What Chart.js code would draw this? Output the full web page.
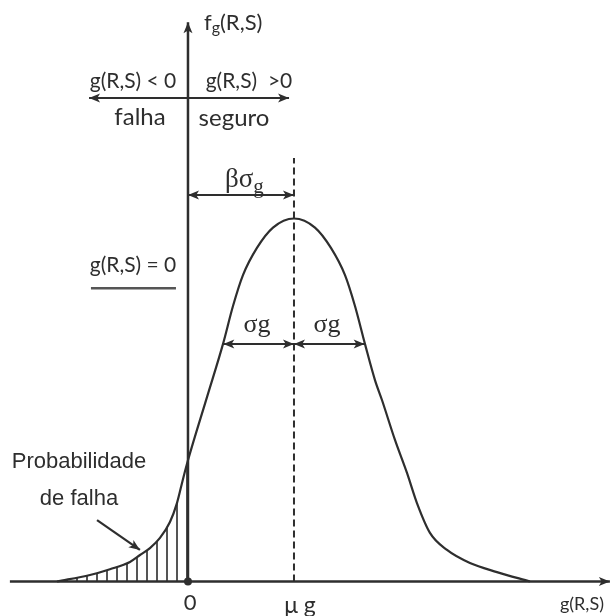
<!DOCTYPE html>
<html>
<head>
<meta charset="utf-8">
<script src="https://cdn.jsdelivr.net/npm/chart.js@4/dist/chart.umd.min.js"></script>
<style>
  html, body { margin: 0; padding: 0; background: #fff; }
  #wrap { width: 612px; height: 616px; position: relative; }
</style>
</head>
<body>
<div id="wrap"><canvas id="c" width="612" height="616"></canvas></div>
<script>
// ---- data (x in units of sigma_g, origin at g=0; y relative to peak) ----
const curveX = [-1.854, -1.387, -1.104, -0.821, -0.679, -0.538, -0.396, -0.255, -0.156, -0.071, 0, 0.269, 0.495, 0.637, 0.778, 0.976, 1.203, 1.5, 1.797, 2.023, 2.222, 2.363, 2.505, 2.646, 2.745, 2.929, 3.099, 3.240, 3.424, 3.665, 3.990, 4.372, 4.839];
const curveY = [0, 0.018, 0.034, 0.054, 0.073, 0.092, 0.120, 0.164, 0.216, 0.282, 0.334, 0.508, 0.654, 0.759, 0.844, 0.919, 0.975, 1.0, 0.975, 0.919, 0.844, 0.759, 0.654, 0.555, 0.500, 0.390, 0.299, 0.216, 0.134, 0.087, 0.051, 0.026, 0];
const meanG = 1.5;      // mu_g
const sigmaG = 1.0;     // sigma_g
const limitG = 0;       // g(R,S) = 0
const tickLabels = ['0', 'μ g'];

const INK = '#2e2e2e';

// hatch pattern for failure probability area
function hatchPattern() {
  const p = document.createElement('canvas');
  p.width = 10; p.height = 10;
  const g = p.getContext('2d');
  g.fillStyle = '#555555';
  g.fillRect(6, 0, 2, 10);
  return document.getElementById('c').getContext('2d').createPattern(p, 'repeat');
}

const curvePts = curveX.map((x, i) => ({ x: x, y: curveY[i] }));
const tailPts = curvePts.filter(p => p.x <= limitG + 0.3);

// annotation geometry (data units)
const lines = [
  { x1: 0, y1: 0, x2: 0, y2: 1.541, w: 2.5, a2: true },            // vertical axis
  { x1: -2.52, y1: 0, x2: 5.97, y2: 0, w: 2.5, a2: true },         // horizontal axis
  { x1: -1.40, y1: 1.332, x2: 1.43, y2: 1.332, w: 2.2, a1: true, a2: true },
  { x1: 0, y1: 1.065, x2: meanG, y2: 1.065, w: 2, a1: true, a2: true },
  { x1: meanG - sigmaG, y1: 0.654, x2: meanG, y2: 0.654, w: 2, a1: true, a2: true },
  { x1: meanG, y1: 0.654, x2: meanG + sigmaG, y2: 0.654, w: 2, a1: true, a2: true },
  { x1: -1.373, y1: 0.808, x2: -0.17, y2: 0.808, w: 2.5, color: '#555' },
  { x1: -1.287, y1: 0.169, x2: -0.68, y2: 0.087, w: 2.2, a2: true }
];

const texts = [
  { t: 'g(R,S) < 0', x: -0.778, y: 1.379, font: '21px Lato', align: 'center' },
  { t: 'g(R,S)  >0', x: 0.863, y: 1.379, font: '21px Lato', align: 'center' },
  { t: 'falha', x: -0.679, y: 1.280, font: '24px Lato', align: 'center' },
  { t: 'seguro', x: 0.651, y: 1.277, font: '24px Lato', align: 'center' },
  { t: 'g(R,S) = 0', x: -0.778, y: 0.872, font: '21px Lato', align: 'center' },
  { t: 'σg', x: 0.976, y: 0.707, font: '26px "Liberation Serif"', align: 'center' },
  { t: 'σg', x: 1.967, y: 0.707, font: '26px "Liberation Serif"', align: 'center' },
  { t: 'Probabilidade', x: -1.542, y: 0.329, font: '22px "Liberation Sans"', align: 'center' },
  { t: 'de falha', x: -1.542, y: 0.227, font: '22px "Liberation Sans"', align: 'center' },
  { t: tickLabels[0], x: 0.03, y: -0.059, font: '22px Lato', align: 'center' },
  { t: tickLabels[1], x: 1.585, y: -0.065, font: '23px Lato', align: 'center' },
  { t: 'g(R,S)', x: 5.575, y: -0.062, font: '18px Lato', align: 'center' }
];

function arrowHead(ctx, x1, y1, x2, y2, len, wid) {
  const ang = Math.atan2(y2 - y1, x2 - x1);
  ctx.save();
  ctx.translate(x2, y2);
  ctx.rotate(ang);
  ctx.beginPath();
  ctx.moveTo(0, 0);
  ctx.lineTo(-len, -wid / 2);
  ctx.lineTo(-len * 0.75, 0);
  ctx.lineTo(-len, wid / 2);
  ctx.closePath();
  ctx.fill();
  ctx.restore();
}

const TAIL_INDEX = 2;

const drawPlugin = {
  id: 'diagram',
  beforeDatasetsDraw(chart) {
    // the tail dataset is drawn first: restrict its hatch to g(R,S) <= 0
    const ctx = chart.ctx;
    ctx.save();
    ctx.beginPath();
    ctx.rect(0, 0, chart.scales.x.getPixelForValue(limitG), chart.height);
    ctx.clip();
  },
  afterDatasetDraw(chart, args) {
    if (args.index === TAIL_INDEX) chart.ctx.restore();
  },
  afterDatasetsDraw(chart) {
    const ctx = chart.ctx;
    const X = v => chart.scales.x.getPixelForValue(v);
    const Y = v => chart.scales.y.getPixelForValue(v);
    ctx.save();
    lines.forEach(l => {
      const c = l.color || INK;
      ctx.strokeStyle = c; ctx.fillStyle = c;
      ctx.lineWidth = l.w;
      ctx.beginPath();
      ctx.moveTo(X(l.x1), Y(l.y1));
      ctx.lineTo(X(l.x2), Y(l.y2));
      ctx.stroke();
      if (l.a2) arrowHead(ctx, X(l.x1), Y(l.y1), X(l.x2), Y(l.y2), 11, 9);
      if (l.a1) arrowHead(ctx, X(l.x2), Y(l.y2), X(l.x1), Y(l.y1), 11, 9);
    });
    // origin dot
    ctx.fillStyle = INK;
    ctx.beginPath();
    ctx.arc(X(0), Y(0), 4, 0, Math.PI * 2);
    ctx.fill();

    ctx.fillStyle = INK;
    ctx.textBaseline = 'middle';
    texts.forEach(t => {
      ctx.font = t.font;
      ctx.textAlign = t.align;
      ctx.fillText(t.t, X(t.x), Y(t.y));
    });

    // f_g(R,S)
    ctx.textAlign = 'left';
    let px = X(0.226), py = Y(1.539);
    ctx.font = '22px Lato';
    ctx.fillText('f', px, py);
    px += ctx.measureText('f').width;
    ctx.font = '16px Lato';
    ctx.fillText('g', px, py + 5);
    px += ctx.measureText('g').width;
    ctx.font = '22px Lato';
    ctx.fillText('(R,S)', px, py);

    // beta sigma_g
    px = X(0.524); py = Y(1.106);
    ctx.font = '27px "Liberation Serif"';
    ctx.fillText('βσ', px, py);
    px += ctx.measureText('βσ').width;
    ctx.font = '21px "Liberation Serif"';
    ctx.fillText('g', px, py + 7);
    ctx.restore();
  }
};

new Chart(document.getElementById('c'), {
  type: 'scatter',
  data: {
    datasets: [
      {
        label: 'fg',
        data: curvePts,
        showLine: true,
        borderColor: INK,
        borderWidth: 2.2,
        pointRadius: 0,
        cubicInterpolationMode: 'monotone',
        fill: false
      },
      {
        label: 'mean',
        data: [{ x: meanG, y: 0 }, { x: meanG, y: 1.167 }],
        showLine: true,
        borderColor: INK,
        borderWidth: 2,
        borderDash: [7, 4],
        pointRadius: 0,
        fill: false
      },
      {
        label: 'tail',
        data: tailPts,
        showLine: true,
        borderWidth: 0,
        borderColor: 'rgba(0,0,0,0)',
        pointRadius: 0,
        cubicInterpolationMode: 'monotone',
        fill: 'origin',
        backgroundColor: hatchPattern()
      }
    ]
  },
  options: {
    responsive: false,
    animation: false,
    layout: { padding: 0 },
    plugins: { legend: { display: false }, tooltip: { enabled: false } },
    scales: {
      x: { type: 'linear', min: -2.66, max: 6.0, display: false },
      y: { type: 'linear', min: -0.095, max: 1.602, display: false }
    }
  },
  plugins: [drawPlugin]
});
</script>
</body>
</html>
